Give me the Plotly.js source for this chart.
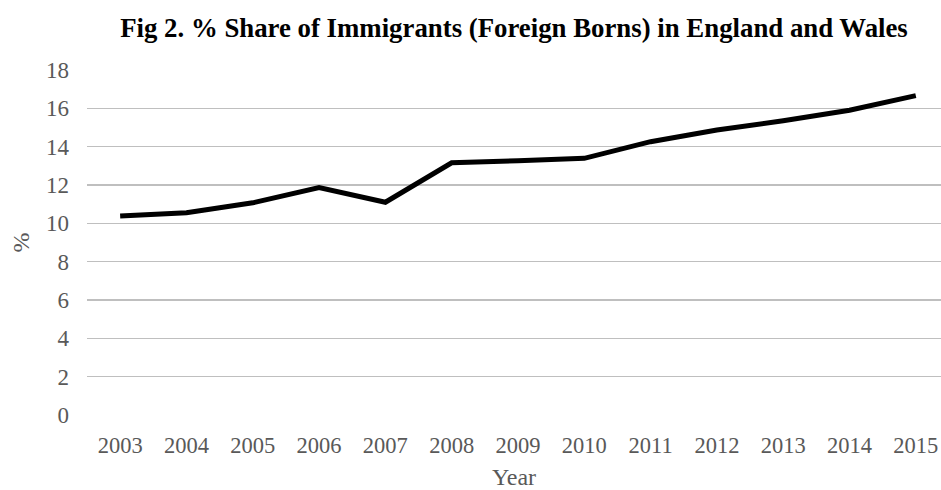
<!DOCTYPE html>
<html>
<head>
<meta charset="utf-8">
<script src="https://cdn.plot.ly/plotly-3.0.1.min.js"></script>
<style>html,body{margin:0;padding:0;background:#fff;}#chart{width:941px;height:490px;}</style>
</head>
<body>
<div id="chart"></div>
<script>
const years = [2003, 2004, 2005, 2006, 2007, 2008, 2009, 2010, 2011, 2012, 2013, 2014, 2015];
const sharePct = [10.38, 10.55, 11.07, 11.86, 11.1, 13.16, 13.27, 13.39, 14.26, 14.87, 15.35, 15.9, 16.66];
const yTicks = [0, 2, 4, 6, 8, 10, 12, 14, 16, 18];

const font = 'Liberation Serif, Times New Roman, serif';
Plotly.newPlot('chart', [{
  x: years,
  y: sharePct,
  type: 'scatter',
  mode: 'lines',
  line: {color: '#000000', width: 5},
  hoverinfo: 'skip'
}], {
  width: 941,
  height: 490,
  margin: {l: 87, r: 0, t: 70, b: 75},
  paper_bgcolor: '#ffffff',
  plot_bgcolor: '#ffffff',
  showlegend: false,
  title: {
    text: '<b>Fig 2. % Share of Immigrants (Foreign Borns) in England and Wales</b>',
    font: {family: font, size: 26.8, color: '#000000'},
    x: 0.5, xref: 'paper', xanchor: 'center',
    y: 1 - 28/490, yref: 'container', yanchor: 'middle'
  },
  xaxis: {
    range: [2002.5, 2015.38],
    tickmode: 'array',
    tickvals: years,
    ticktext: years.map(String),
    showgrid: false,
    zeroline: false,
    showline: false,
    ticks: '',
    ticklabelstandoff: 14,
    ticklabeloverflow: 'allow',
    tickfont: {family: font, size: 22.5, color: '#595959'},
    title: {text: 'Year', font: {family: font, size: 24, color: '#595959'}, standoff: 13}
  },
  yaxis: {
    range: [0, 18],
    tickmode: 'array',
    tickvals: yTicks,
    ticktext: yTicks.map(String),
    showgrid: true,
    gridcolor: '#bfbfbf',
    gridwidth: 1.5,
    zeroline: false,
    showline: false,
    ticks: '',
    ticklabelstandoff: 17,
    tickfont: {family: font, size: 23, color: '#595959'},
    title: {text: '%', font: {family: font, size: 24, color: '#595959'}, standoff: 9}
  }
}, {displayModeBar: false, staticPlot: true});
</script>
</body>
</html>
